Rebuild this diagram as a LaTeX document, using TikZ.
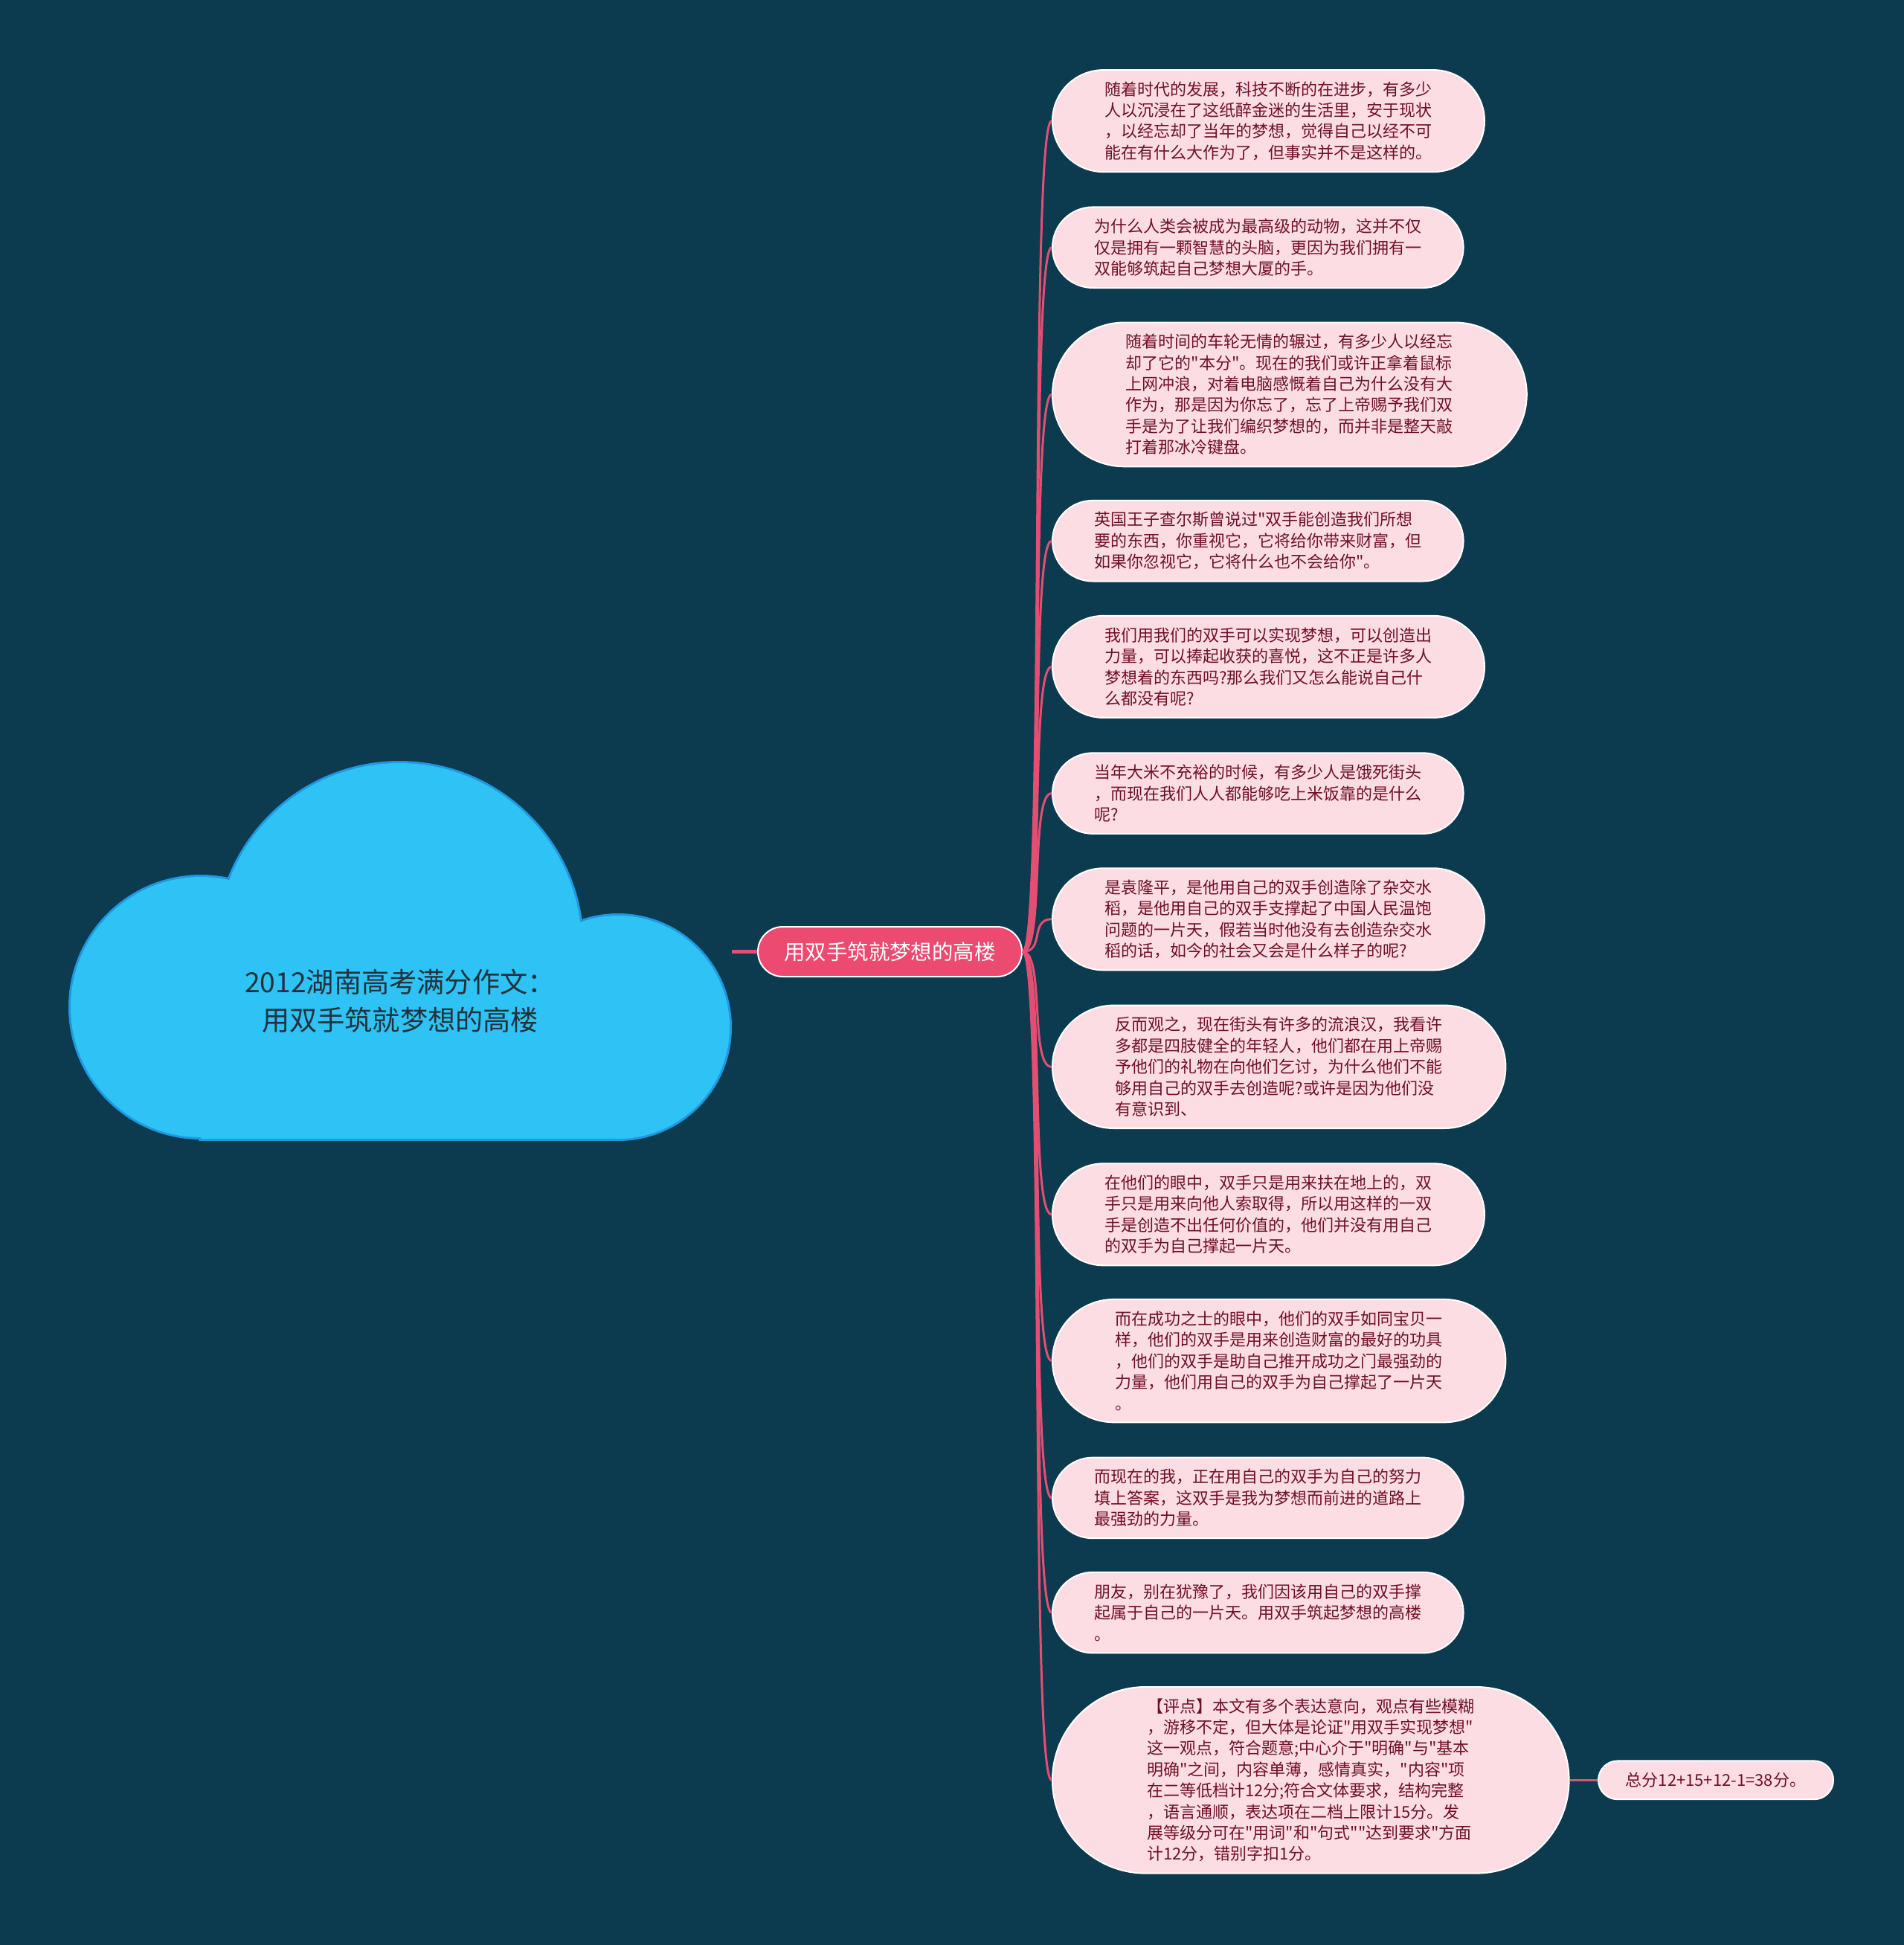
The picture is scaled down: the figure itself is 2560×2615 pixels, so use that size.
\documentclass[tikz,border=0pt]{standalone}
\usepackage{fontspec}
\setmainfont{Noto Sans CJK SC}[Ligatures=TeXOff]

\definecolor{bgcol}{RGB}{12,58,78}
\definecolor{cloudfill}{RGB}{46,194,245}
\definecolor{cloudedge}{RGB}{30,152,225}
\definecolor{titletext}{RGB}{34,50,60}
\definecolor{hubfill}{RGB}{236,74,112}
\definecolor{linkcol}{RGB}{228,78,114}
\definecolor{leaffill}{RGB}{252,221,227}
\definecolor{leaftext}{RGB}{112,16,38}

\tikzset{
  cloudrim/.style={draw=cloudedge, line width=3pt},
  cloudbody/.style={fill=cloudfill},
  title/.style={text=titletext, align=center, font=\fontsize{18.6}{25.3}\selectfont},
  hub/.style={rectangle, fill=hubfill, draw=white, line width=1pt, text=white,
    font=\fontsize{14.2}{17}\selectfont, inner ysep=0pt, inner xsep=17.75pt,
    minimum height=33.5pt, rounded corners=16.75pt},
  leaf/.style={rectangle, fill=leaffill, draw=white, line width=1pt, text=leaftext,
    font=\fontsize{11}{14.2}\selectfont, align=left, inner ysep=0pt,
    inner xsep=7.1pt*#1+6.85pt, rounded corners=7.1pt*#1+5.85pt,
    minimum height=14.2pt*#1+11.7pt, anchor=west},
  branch/.style={draw=linkcol, line width=1.5pt},
  trunk/.style={draw=linkcol, line width=2.5pt},
}

\begin{document}
\begin{tikzpicture}[x=0.5pt,y=0.5pt,yscale=-1,xscale=1]
	\fill [bgcol] (0,0) rectangle (2560,2615);
	\useasboundingbox (0,0) rectangle (2560,2615);

	\draw [cloudrim] (270,1354) circle [radius=175];
	\draw [cloudrim] (537,1271) circle [radius=245];
	\draw [cloudrim] (831,1381) circle [radius=150];
	\draw [cloudrim] (270,1271) rectangle (831,1531);
	\fill [cloudbody] (270,1354) circle [radius=175];
	\fill [cloudbody] (537,1271) circle [radius=245];
	\fill [cloudbody] (831,1381) circle [radius=150];
	\fill [cloudbody] (270,1271) rectangle (831,1531);
	\node [title] (title) at (538,1346) {2012湖南高考满分作文：\\用双手筑就梦想的高楼};
	\coordinate (cloudtip) at (984,1279.5);

	\node [hub] (hub) at (1196.5,1279.5) {用双手筑就梦想的高楼};

	\node [leaf=4] (t1) at (1414,162.6) {随着时代的发展，科技不断的在进步，有多少\\人以沉浸在了这纸醉金迷的生活里，安于现状\\，以经忘却了当年的梦想，觉得自己以经不可\\能在有什么大作为了，但事实并不是这样的。};
	\node [leaf=3] (t2) at (1414,332.7) {为什么人类会被成为最高级的动物，这并不仅\\仅是拥有一颗智慧的头脑，更因为我们拥有一\\双能够筑起自己梦想大厦的手。};
	\node [leaf=6] (t3) at (1414,530.4) {随着时间的车轮无情的辗过，有多少人以经忘\\却了它的"本分"。现在的我们或许正拿着鼠标\\上网冲浪，对着电脑感慨着自己为什么没有大\\作为，那是因为你忘了，忘了上帝赐予我们双\\手是为了让我们编织梦想的，而并非是整天敲\\打着那冰冷键盘。};
	\node [leaf=3] (t4) at (1414,727.2) {英国王子查尔斯曾说过"双手能创造我们所想\\要的东西，你重视它，它将给你带来财富，但\\如果你忽视它，它将什么也不会给你"。};
	\node [leaf=4] (t5) at (1414,896.4) {我们用我们的双手可以实现梦想，可以创造出\\力量，可以捧起收获的喜悦，这不正是许多人\\梦想着的东西吗?那么我们又怎么能说自己什\\么都没有呢?};
	\node [leaf=3] (t6) at (1414,1066.6) {当年大米不充裕的时候，有多少人是饿死街头\\，而现在我们人人都能够吃上米饭靠的是什么\\呢?};
	\node [leaf=4] (t7) at (1414,1235.8) {是袁隆平，是他用自己的双手创造除了杂交水\\稻，是他用自己的双手支撑起了中国人民温饱\\问题的一片天，假若当时他没有去创造杂交水\\稻的话，如今的社会又会是什么样子的呢?};
	\node [leaf=5] (t8) at (1414,1434.3) {反而观之，现在街头有许多的流浪汉，我看许\\多都是四肢健全的年轻人，他们都在用上帝赐\\予他们的礼物在向他们乞讨，为什么他们不能\\够用自己的双手去创造呢?或许是因为他们没\\有意识到、};
	\node [leaf=4] (t9) at (1414,1632.8) {在他们的眼中，双手只是用来扶在地上的，双\\手只是用来向他人索取得，所以用这样的一双\\手是创造不出任何价值的，他们并没有用自己\\的双手为自己撑起一片天。};
	\node [leaf=5] (t10) at (1414,1829.6) {而在成功之士的眼中，他们的双手如同宝贝一\\样，他们的双手是用来创造财富的最好的功具\\，他们的双手是助自己推开成功之门最强劲的\\力量，他们用自己的双手为自己撑起了一片天\\。};
	\node [leaf=3] (t11) at (1414,2013.9) {而现在的我，正在用自己的双手为自己的努力\\填上答案，这双手是我为梦想而前进的道路上\\最强劲的力量。};
	\node [leaf=3] (t12) at (1414,2168.1) {朋友，别在犹豫了，我们因该用自己的双手撑\\起属于自己的一片天。用双手筑起梦想的高楼\\。};
	\node [leaf=8] (t13) at (1414,2393.3) {【评点】本文有多个表达意向，观点有些模糊\\，游移不定，但大体是论证"用双手实现梦想"\\这一观点，符合题意;中心介于"明确"与"基本\\明确"之间，内容单薄，感情真实，"内容"项\\在二等低档计12分;符合文体要求，结构完整\\，语言通顺，表达项在二档上限计15分。发\\展等级分可在"用词"和"句式""达到要求"方面\\计12分，错别字扣1分。};
	\node [leaf=1, minimum width=158pt] (t14) at (2148,2393.3) {总分12+15+12-1=38分。};

	\draw [trunk] (cloudtip) -- (hub.west);
	\draw [branch] (hub.east) .. controls +(30,0) and +(-30,0) .. (t1.west);
	\draw [branch] (hub.east) .. controls +(30,0) and +(-30,0) .. (t2.west);
	\draw [branch] (hub.east) .. controls +(30,0) and +(-30,0) .. (t3.west);
	\draw [branch] (hub.east) .. controls +(30,0) and +(-30,0) .. (t4.west);
	\draw [branch] (hub.east) .. controls +(30,0) and +(-30,0) .. (t5.west);
	\draw [branch] (hub.east) .. controls +(30,0) and +(-30,0) .. (t6.west);
	\draw [branch] (hub.east) .. controls +(30,0) and +(-30,0) .. (t7.west);
	\draw [branch] (hub.east) .. controls +(30,0) and +(-30,0) .. (t8.west);
	\draw [branch] (hub.east) .. controls +(30,0) and +(-30,0) .. (t9.west);
	\draw [branch] (hub.east) .. controls +(30,0) and +(-30,0) .. (t10.west);
	\draw [branch] (hub.east) .. controls +(30,0) and +(-30,0) .. (t11.west);
	\draw [branch] (hub.east) .. controls +(30,0) and +(-30,0) .. (t12.west);
	\draw [branch] (hub.east) .. controls +(30,0) and +(-30,0) .. (t13.west);
	\draw [branch] (t13.east) -- (t14.west);
\end{tikzpicture}
\end{document}
